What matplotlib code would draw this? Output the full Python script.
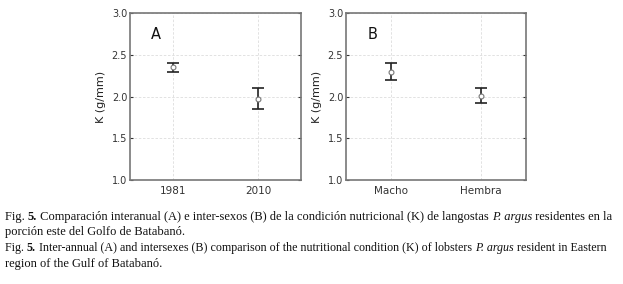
import matplotlib.pyplot as plt

# Datos
anios = ["1981", "2010"]
k_anio = [2.35, 1.97]
k_anio_lo = [2.30, 1.85]
k_anio_hi = [2.40, 2.10]

sexos = ["Macho", "Hembra"]
k_sexo = [2.30, 2.01]
k_sexo_lo = [2.20, 1.92]
k_sexo_hi = [2.40, 2.10]

fig = plt.figure(figsize=(6.23, 2.84), dpi=100)
axA = fig.add_axes([0.2087, 0.366, 0.274, 0.588])
axB = fig.add_axes([0.5554, 0.366, 0.289, 0.588])


def panel(ax, cats, vals, lo, hi, letra):
    x = range(len(cats))
    err = [[v - l for v, l in zip(vals, lo)], [h - v for v, h in zip(vals, hi)]]
    ax.errorbar(x, vals, yerr=err, fmt="none", ecolor="#222222", elinewidth=1.2,
                capsize=4, capthick=1.2, zorder=3)
    ax.plot(x, vals, "o", ms=3.5, mfc="white", mec="#777777", mew=0.8, zorder=4)
    ax.set_xlim(-0.5, 1.5)
    ax.set_ylim(1.0, 3.0)
    ax.set_xticks(list(x))
    ax.set_xticklabels(cats)
    ax.set_yticks([1.0, 1.5, 2.0, 2.5, 3.0])
    ax.set_yticklabels(["1.0", "1.5", "2.0", "2.5", "3.0"])
    ax.set_ylabel("K (g/mm)", fontsize=8, color="#222222", labelpad=4)
    ax.grid(True, linestyle=(0, (3, 2)), color="#dddddd", linewidth=0.6)
    ax.tick_params(axis="both", labelsize=7, colors="#333333", length=2,
                   direction="in", right=True, pad=2)
    ax.tick_params(axis="x", labelsize=7.5, pad=4, length=0)
    for s in ax.spines.values():
        s.set_color("#777777")
        s.set_linewidth(1.2)
    ax.text(0.12, 0.87, letra, transform=ax.transAxes, fontsize=10.5,
            color="#111111", ha="left", va="center")


panel(axA, anios, k_anio, k_anio_lo, k_anio_hi, "A")
panel(axB, sexos, k_sexo, k_sexo_lo, k_sexo_hi, "B")


# Pie de figura (trozos encadenados para mezclar negrita / cursiva)
def linea(y, trozos, size=9):
    anterior = None
    for txt, estilo, peso in trozos:
        kw = dict(fontsize=size, family="Liberation Serif", color="#111111",
                  style=estilo, weight=peso, va="bottom", ha="left")
        if anterior is None:
            anterior = fig.text(5 / 623, 1 - y / 284, txt, **kw)
        else:
            anterior = fig.add_artist(plt.Annotation(txt, xy=(1, 0), xycoords=anterior, **kw))


linea(223, [("Fig. ", "normal", "normal"), ("5.", "normal", "bold"),
            (" Comparación interanual (A) e inter-sexos (B) de la condición nutricional (K) de langostas ", "normal", "normal"),
            ("P. argus", "italic", "normal"),
            (" residentes en la", "normal", "normal")], size=9.0)
linea(238.5, [("porción este del Golfo de Batabanó.", "normal", "normal")])
linea(254, [("Fig. ", "normal", "normal"), ("5.", "normal", "bold"),
            (" Inter-annual (A) and intersexes (B) comparison of the nutritional condition (K) of lobsters ", "normal", "normal"),
            ("P. argus", "italic", "normal"),
            (" resident in Eastern", "normal", "normal")], size=8.65)
linea(269.5, [("region of the Gulf of Batabanó.", "normal", "normal")])

fig.savefig("out.png", dpi=100)
